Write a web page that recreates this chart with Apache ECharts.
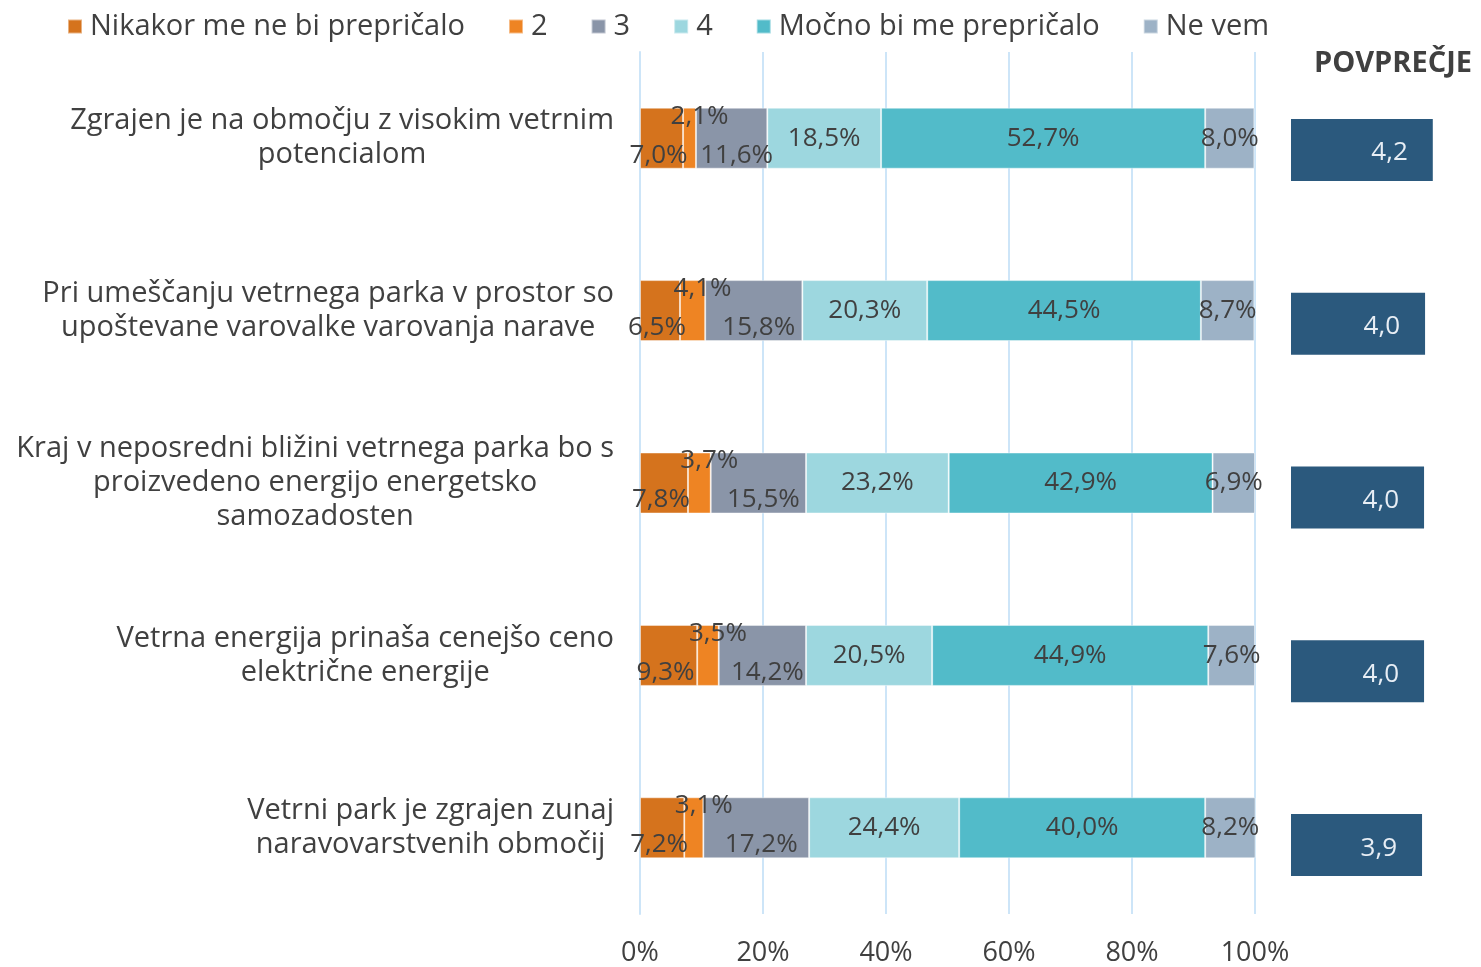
<!DOCTYPE html>
<html>
<head>
<meta charset="utf-8">
<script src="https://cdn.jsdelivr.net/npm/echarts@6/dist/echarts.min.js"></script>
<style>
  html, body { margin: 0; padding: 0; background: #fff; }
  #chart { width: 1481px; height: 967px; }
</style>
</head>
<body>
<div id="chart"></div>
<script>
const categories = [
  'Zgrajen je na območju z visokim vetrnim\npotencialom',
  'Pri umeščanju vetrnega parka v prostor so\nupoštevane varovalke varovanja narave',
  'Kraj v neposredni bližini vetrnega parka bo s\nproizvedeno energijo energetsko\nsamozadosten',
  'Vetrna energija prinaša cenejšo ceno\nelektrične energije',
  'Vetrni park je zgrajen zunaj\nnaravovarstvenih območij'
]
const seriesNames = ['Nikakor me ne bi prepričalo', '2', '3', '4', 'Močno bi me prepričalo', 'Ne vem']
const nikakor = [7.0, 6.5, 7.8, 9.3, 7.2]
const two = [2.1, 4.1, 3.7, 3.5, 3.1]
const three = [11.6, 15.8, 15.5, 14.2, 17.2]
const four = [18.5, 20.3, 23.2, 20.5, 24.4]
const mocno = [52.7, 44.5, 42.9, 44.9, 40.0]
const neVem = [8.0, 8.7, 6.9, 7.6, 8.2]
const povprecje = [4.22, 3.99, 3.96, 3.96, 3.9]
const xTicks = [0, 20, 40, 60, 80, 100]

const colors = ['#d5731d', '#ee8423', '#8a95a8', '#9dd7df', '#52bbc9', '#9db2c6']
const labelOffsets = [[-3, 17], [10, -22], [5, 17], [0, 0], [0, 0], [0, 0]]
const FONT = 'Open Sans'
const TEXT = '#404040'

const chart = echarts.init(document.getElementById('chart'))
const values = [nikakor, two, three, four, mocno, neVem]

const stackSeries = seriesNames.map((name, i) => ({
  name: name,
  type: 'bar',
  stack: 'total',
  barWidth: 61,
  xAxisIndex: 0,
  yAxisIndex: 0,
  itemStyle: { color: colors[i], borderColor: 'rgba(255,255,255,0.45)', borderWidth: 1 },
  label: {
    show: true,
    position: 'inside',
    offset: labelOffsets[i],
    color: TEXT,
    fontFamily: FONT,
    fontSize: 26,
    formatter: p => p.value.toFixed(1).replace('.', ',') + '%'
  },
  data: values[i]
}))

chart.setOption({
  animation: false,
  color: colors,
  textStyle: { fontFamily: FONT },
  legend: {
    top: 7,
    left: 62,
    itemWidth: 14,
    itemHeight: 14,
    itemGap: 43,
    icon: 'rect',
    textStyle: { color: TEXT, fontSize: 29, fontFamily: FONT, padding: [0, 0, 0, 3] },
    data: seriesNames
  },
  title: {
    text: 'POVPREČJE',
    right: 4,
    top: 44,
    textStyle: { color: TEXT, fontSize: 29, fontWeight: 'bold', fontFamily: FONT }
  },
  grid: [
    { left: 640, right: 226, top: 52, bottom: 51 },
    { left: 1291, width: 168, top: 63, bottom: 35 }
  ],
  xAxis: [
    {
      gridIndex: 0,
      type: 'value',
      min: 0,
      max: 100,
      interval: 20,
      axisLine: { show: false },
      axisTick: { show: false },
      splitLine: { lineStyle: { color: '#cde5f8', width: 2 } },
      axisLabel: {
        color: TEXT,
        fontSize: 27,
        fontFamily: FONT,
        margin: 26,
        formatter: v => (xTicks.includes(v) ? v + '%' : '')
      }
    },
    {
      gridIndex: 1,
      type: 'value',
      min: 0,
      max: 5,
      show: false
    }
  ],
  yAxis: [
    {
      gridIndex: 0,
      type: 'category',
      inverse: true,
      data: categories,
      axisLine: { lineStyle: { color: '#cde5f8', width: 2 } },
      axisTick: { length: 6, lineStyle: { color: '#cde5f8', width: 2 } },
      axisLabel: {
        color: TEXT,
        fontSize: 29,
        fontFamily: FONT,
        lineHeight: 34,
        margin: 26,
        align: 'right',
        // centre every line inside the label block, like the original
        formatter: v => v.split('\n').map(s => '{c|' + s + '}').join('\n'),
        rich: {
          c: { align: 'center', color: TEXT, fontSize: 29, fontFamily: FONT, lineHeight: 34 }
        }
      }
    },
    {
      gridIndex: 1,
      type: 'category',
      inverse: true,
      data: categories,
      show: false
    }
  ],
  series: stackSeries.concat([
    {
      name: 'Povprečje',
      type: 'bar',
      xAxisIndex: 1,
      yAxisIndex: 1,
      barWidth: 62,
      itemStyle: { color: '#2b597d' },
      label: {
        show: true,
        position: 'insideRight',
        distance: 25,
        offset: [0, 3],
        color: '#e8eef5',
        fontSize: 26,
        fontFamily: FONT,
        formatter: p => p.value.toFixed(1).replace('.', ',')
      },
      data: povprecje
    }
  ])
})
</script>
</body>
</html>
